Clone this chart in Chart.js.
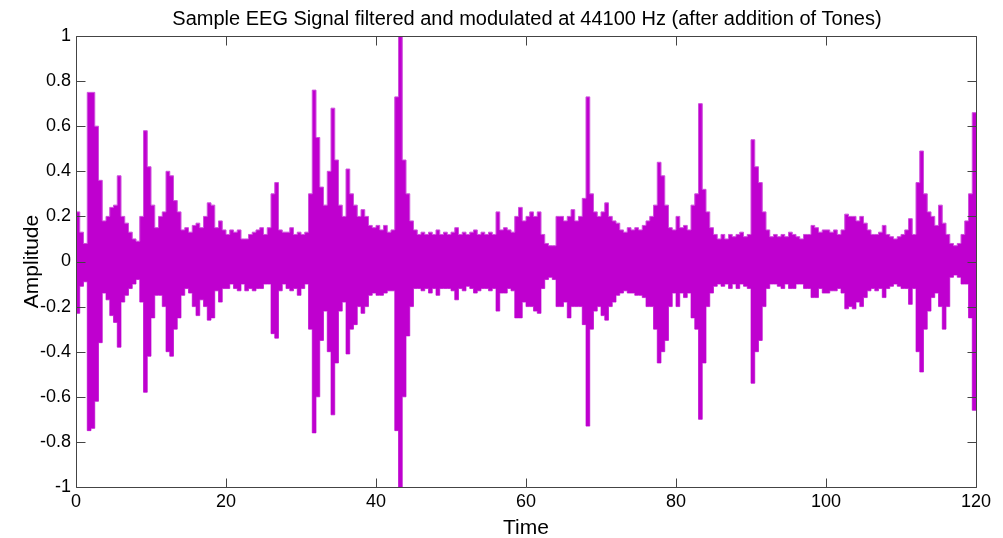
<!DOCTYPE html>
<html>
<head>
<meta charset="utf-8">
<script src="https://cdn.jsdelivr.net/npm/chart.js@4.4.1/dist/chart.umd.min.js"></script>
<style>
  html, body { margin: 0; padding: 0; background: #fff; }
  #wrap { width: 1003px; height: 538px; }
</style>
</head>
<body>
<div id="wrap"><canvas id="eegChart"></canvas></div>
<script>
// envelope of the signal, one value per 0.5 s bin (0..120 s)
const binSize = 0.5;
const hi = [
  0.22,0.13,0.08,0.75,0.75,0.6,0.36,0.18,0.2,0.24,0.25,0.38,0.2,0.17,0.13,0.1,0.09,0.2,0.58,0.42,
  0.25,0.15,0.2,0.22,0.4,0.38,0.27,0.22,0.14,0.15,0.13,0.16,0.17,0.15,0.2,0.26,0.25,0.15,0.18,0.14,
  0.12,0.14,0.13,0.14,0.1,0.1,0.12,0.13,0.14,0.15,0.12,0.15,0.3,0.35,0.14,0.13,0.13,0.15,0.12,0.13,
  0.12,0.13,0.3,0.76,0.55,0.33,0.25,0.4,0.68,0.45,0.25,0.2,0.41,0.3,0.25,0.2,0.23,0.2,0.16,0.15,
  0.16,0.14,0.16,0.13,0.14,0.73,1.0,0.45,0.3,0.18,0.14,0.12,0.13,0.12,0.13,0.12,0.14,0.12,0.13,0.12,
  0.13,0.15,0.12,0.13,0.12,0.13,0.14,0.12,0.13,0.12,0.13,0.12,0.22,0.14,0.15,0.14,0.13,0.2,0.24,0.18,
  0.2,0.22,0.2,0.22,0.12,0.08,0.07,0.07,0.2,0.2,0.18,0.2,0.23,0.18,0.2,0.28,0.73,0.3,0.22,0.2,
  0.22,0.26,0.2,0.18,0.17,0.14,0.13,0.15,0.14,0.15,0.14,0.16,0.18,0.2,0.25,0.44,0.38,0.25,0.15,0.14,
  0.2,0.15,0.16,0.14,0.25,0.3,0.7,0.32,0.22,0.15,0.12,0.1,0.12,0.1,0.12,0.11,0.12,0.13,0.11,0.12,
  0.54,0.42,0.35,0.22,0.14,0.11,0.12,0.11,0.12,0.11,0.13,0.12,0.11,0.1,0.12,0.12,0.16,0.15,0.13,0.14,
  0.14,0.13,0.14,0.12,0.14,0.21,0.2,0.2,0.18,0.2,0.17,0.14,0.12,0.12,0.13,0.16,0.12,0.11,0.1,0.11,
  0.12,0.14,0.19,0.12,0.35,0.49,0.3,0.22,0.2,0.16,0.25,0.17,0.12,0.08,0.07,0.08,0.12,0.18,0.3,0.66
];
const lo = [
  -0.23,-0.11,-0.09,-0.75,-0.74,-0.62,-0.36,-0.14,-0.17,-0.24,-0.27,-0.38,-0.18,-0.15,-0.12,-0.1,-0.08,-0.18,-0.58,-0.42,
  -0.25,-0.15,-0.15,-0.2,-0.4,-0.42,-0.3,-0.25,-0.15,-0.12,-0.14,-0.2,-0.24,-0.17,-0.2,-0.26,-0.25,-0.13,-0.18,-0.12,
  -0.12,-0.1,-0.12,-0.13,-0.1,-0.13,-0.12,-0.13,-0.12,-0.12,-0.1,-0.1,-0.32,-0.34,-0.13,-0.1,-0.12,-0.13,-0.12,-0.15,
  -0.12,-0.1,-0.3,-0.76,-0.6,-0.35,-0.22,-0.4,-0.68,-0.45,-0.22,-0.18,-0.41,-0.3,-0.28,-0.2,-0.23,-0.2,-0.15,-0.14,
  -0.15,-0.15,-0.14,-0.13,-0.13,-0.75,-1.0,-0.6,-0.33,-0.2,-0.12,-0.12,-0.13,-0.12,-0.14,-0.12,-0.15,-0.12,-0.12,-0.12,
  -0.13,-0.17,-0.12,-0.13,-0.11,-0.12,-0.14,-0.13,-0.12,-0.12,-0.13,-0.12,-0.22,-0.14,-0.14,-0.12,-0.13,-0.25,-0.25,-0.18,
  -0.2,-0.2,-0.22,-0.23,-0.12,-0.08,-0.07,-0.08,-0.2,-0.2,-0.18,-0.25,-0.2,-0.2,-0.2,-0.28,-0.73,-0.3,-0.22,-0.2,
  -0.24,-0.26,-0.2,-0.18,-0.15,-0.14,-0.13,-0.14,-0.14,-0.15,-0.15,-0.16,-0.2,-0.2,-0.3,-0.45,-0.4,-0.35,-0.2,-0.14,
  -0.2,-0.14,-0.16,-0.14,-0.25,-0.3,-0.7,-0.45,-0.2,-0.14,-0.11,-0.1,-0.11,-0.1,-0.12,-0.1,-0.12,-0.1,-0.11,-0.12,
  -0.54,-0.4,-0.35,-0.2,-0.12,-0.1,-0.1,-0.11,-0.12,-0.1,-0.12,-0.12,-0.1,-0.1,-0.12,-0.12,-0.16,-0.16,-0.12,-0.14,
  -0.14,-0.13,-0.13,-0.12,-0.14,-0.21,-0.2,-0.21,-0.18,-0.2,-0.16,-0.13,-0.12,-0.13,-0.12,-0.16,-0.12,-0.11,-0.1,-0.11,
  -0.12,-0.12,-0.19,-0.12,-0.4,-0.49,-0.3,-0.22,-0.16,-0.14,-0.2,-0.3,-0.2,-0.07,-0.06,-0.07,-0.1,-0.1,-0.25,-0.66
];
const timeTicks = [0, 20, 40, 60, 80, 100, 120];
const ampTicks = [-1, -0.8, -0.6, -0.4, -0.2, 0, 0.2, 0.4, 0.6, 0.8, 1];

const FONT = '"Liberation Sans", Arial, Helvetica, sans-serif';
const fillColor = 'rgb(191,0,207)';
const edgeColor = 'rgb(206,80,220)';
const axisColor = '#444';

// step edges: each bin holds its value from its start to the next bin's start
function stepPoints(arr) {
  const pts = arr.map((v, i) => ({ x: i * binSize, y: v }));
  pts.push({ x: arr.length * binSize, y: arr[arr.length - 1] });
  return pts;
}

// MATLAB-style box with inward ticks + title
const boxPlugin = {
  id: 'box',
  afterDraw(chart) {
    const { ctx, chartArea: a, scales: { x, y } } = chart;
    const L = Math.round(a.left) + 0.5, R = Math.round(a.right) + 0.5;
    const T = Math.round(a.top) + 0.5, B = Math.round(a.bottom) + 0.5;
    ctx.save();
    ctx.strokeStyle = axisColor;
    ctx.lineWidth = 1;
    ctx.beginPath();
    ctx.rect(L, T, R - L, B - T);
    const tl = 9;
    timeTicks.forEach(t => {
      const px = Math.round(x.getPixelForValue(t)) + 0.5;
      ctx.moveTo(px, B); ctx.lineTo(px, B - tl);
      ctx.moveTo(px, T); ctx.lineTo(px, T + tl);
    });
    ampTicks.forEach(v => {
      const py = Math.round(y.getPixelForValue(v)) + 0.5;
      ctx.moveTo(L, py); ctx.lineTo(L + tl, py);
      ctx.moveTo(R, py); ctx.lineTo(R - tl, py);
    });
    ctx.stroke();

    ctx.fillStyle = '#000';
    ctx.font = '20px ' + FONT;
    ctx.textAlign = 'center';
    ctx.textBaseline = 'alphabetic';
    ctx.fillText('Sample EEG Signal filtered and modulated at 44100 Hz (after addition of Tones)', 527, 25);
    ctx.restore();
  }
};

new Chart(document.getElementById('eegChart'), {
  type: 'line',
  data: {
    datasets: [{
      data: stepPoints(hi),
      stepped: true,
      borderColor: edgeColor,
      backgroundColor: fillColor,
      borderWidth: 1,
      pointRadius: 0,
      fill: '+1'
    }, {
      data: stepPoints(lo),
      stepped: true,
      borderColor: edgeColor,
      borderWidth: 1,
      pointRadius: 0,
      fill: false
    }]
  },
  options: {
    responsive: true,
    maintainAspectRatio: false,
    animation: false,
    parsing: false,
    normalized: true,
    layout: { padding: { top: 36, right: 27, left: 0, bottom: 0 } },
    plugins: { legend: { display: false }, tooltip: { enabled: false } },
    scales: {
      x: {
        type: 'linear',
        min: 0, max: 120,
        afterBuildTicks: s => { s.ticks = timeTicks.map(v => ({ value: v })); },
        afterFit: s => { s.height = 51; },
        grid: { display: false, drawTicks: false },
        border: { display: false },
        ticks: { color: '#000', padding: 4, font: { family: FONT, size: 18 }, maxRotation: 0 },
        title: { display: true, text: 'Time', color: '#000', padding: { top: 0, bottom: 0 },
          font: { family: FONT, size: 21, lineHeight: 0.9 } }
      },
      y: {
        min: -1, max: 1,
        afterBuildTicks: s => { s.ticks = ampTicks.map(v => ({ value: v })); },
        afterFit: s => { s.width = 76; },
        grid: { display: false, drawTicks: false },
        border: { display: false },
        ticks: { color: '#000', padding: 5, font: { family: FONT, size: 18 },
          callback: v => String(Math.round(v * 10) / 10) },
        title: { display: true, text: 'Amplitude', color: '#000', padding: { top: 23, bottom: 0 },
          font: { family: FONT, size: 21, lineHeight: 0.9 } }
      }
    }
  },
  plugins: [boxPlugin]
});
</script>
</body>
</html>
